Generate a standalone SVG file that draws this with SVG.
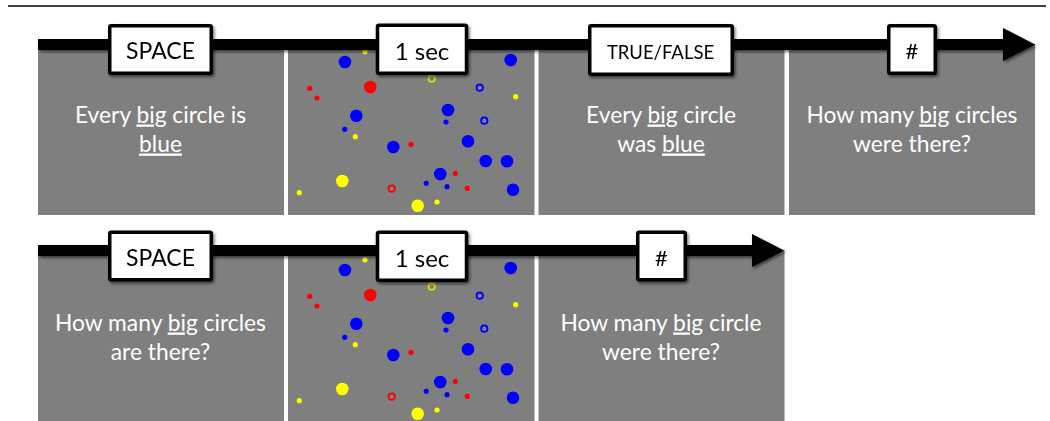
<svg xmlns="http://www.w3.org/2000/svg" xmlns:xlink="http://www.w3.org/1999/xlink" width="1050" height="421" viewBox="0 0 1050 421">
<style>
.panel{fill:#7f7f7f}
.body{font-family:Lato,"Open Sans",sans-serif;font-size:22.8px;fill:#ffffff;text-anchor:middle}
.u{text-decoration:underline}
.box{fill:#ffffff;stroke:#000000;stroke-width:3.5}
.lbl{font-family:Lato,"Open Sans",sans-serif;font-size:23px;fill:#000000;text-anchor:middle}
.axis{stroke:#000000;stroke-width:11;fill:none}
.bb{fill:#0000ff}.br{fill:#ff0000}.by{fill:#ffff00}
.rb{fill:none;stroke:#0000ff;stroke-width:1.8}
.rr{fill:none;stroke:#ff0000;stroke-width:1.8}
.ry{fill:none;stroke:#e0d800;stroke-width:1.8}
</style>
<defs>
<filter id="sh" x="-10%" y="-20%" width="130%" height="160%">
<feDropShadow dx="1.5" dy="2" stdDeviation="1.6" flood-color="#000" flood-opacity="0.55"/>
</filter>
<marker id="ah" viewBox="0 0 32 33" markerWidth="32" markerHeight="33" refX="0" refY="16.5" markerUnits="userSpaceOnUse" orient="auto">
<path d="M0,0 L32,16.5 L0,33 Z" fill="#000"/>
</marker>
<g id="dots">
<circle class="bb" cx="345" cy="62" r="6.3"/>
<circle class="bb" cx="510.7" cy="60" r="6.3"/>
<circle class="bb" cx="356.3" cy="115.7" r="6.3"/>
<circle class="bb" cx="448" cy="110" r="6.3"/>
<circle class="bb" cx="393.3" cy="147" r="6.3"/>
<circle class="bb" cx="468" cy="141.3" r="6.3"/>
<circle class="bb" cx="485.7" cy="161" r="6.3"/>
<circle class="bb" cx="507" cy="161.3" r="6.3"/>
<circle class="bb" cx="440.3" cy="174" r="6.3"/>
<circle class="bb" cx="513" cy="189.7" r="6.3"/>
<circle class="br" cx="370.3" cy="87" r="6.3"/>
<circle class="by" cx="342.3" cy="181" r="6.3"/>
<circle class="by" cx="417.7" cy="205.7" r="6.3"/>
<circle class="br" cx="309.7" cy="88.3" r="2.6"/>
<circle class="br" cx="317" cy="98" r="2.6"/>
<circle class="br" cx="411" cy="144.3" r="2.6"/>
<circle class="br" cx="455.3" cy="173.3" r="2.6"/>
<circle class="br" cx="467.3" cy="188.3" r="2.6"/>
<circle class="bb" cx="446" cy="122" r="2.6"/>
<circle class="bb" cx="344.7" cy="129.3" r="2.6"/>
<circle class="bb" cx="426.3" cy="183.3" r="2.6"/>
<circle class="bb" cx="447" cy="186.7" r="2.6"/>
<circle class="by" cx="365" cy="51.7" r="2.6"/>
<circle class="by" cx="515.7" cy="96.7" r="2.6"/>
<circle class="by" cx="355.3" cy="136.7" r="2.6"/>
<circle class="by" cx="299.3" cy="192.7" r="2.6"/>
<circle class="by" cx="437" cy="202" r="2.6"/>
<circle class="ry" cx="431.7" cy="78.7" r="3.2"/>
<circle class="rb" cx="479.7" cy="87.7" r="3.2"/>
<circle class="rb" cx="484.3" cy="120.7" r="3.2"/>
<circle class="rr" cx="391.7" cy="188.7" r="3.2"/>
</g>
</defs>
<rect width="1050" height="421" fill="#ffffff"/>
<line x1="8" y1="6" x2="1046" y2="6" stroke="#000" stroke-width="1.3"/>

<g id="panel-top-1"><rect class="panel" x="38" y="44" width="246" height="171"/>
<text class="body" x="160.5" y="122.5">Every <tspan class="u">big</tspan> circle is</text>
<text class="body" x="160.5" y="151.5"><tspan class="u">blue</tspan></text></g>
<g id="panel-top-2"><rect class="panel" x="288" y="44" width="246.5" height="171"/><use xlink:href="#dots" href="#dots"/></g>
<g id="panel-top-3"><rect class="panel" x="538.5" y="44" width="246" height="171"/>
<text class="body" x="661" y="122.5">Every <tspan class="u">big</tspan> circle</text>
<text class="body" x="661" y="151.5">was <tspan class="u">blue</tspan></text></g>
<g id="panel-top-4"><rect class="panel" x="789" y="44" width="246" height="171"/>
<text class="body" x="912" y="122.5">How many <tspan class="u">big</tspan> circles</text>
<text class="body" x="912" y="151.5">were there?</text></g>

<g id="panel-bot-1"><rect class="panel" x="38" y="250" width="246" height="171"/>
<text class="body" x="160.5" y="330.5">How many <tspan class="u">big</tspan> circles</text>
<text class="body" x="160.5" y="359.5">are there?</text></g>
<g id="panel-bot-2"><rect class="panel" x="288" y="250" width="246.5" height="171"/><use xlink:href="#dots" href="#dots" transform="translate(0,208)"/></g>
<g id="panel-bot-3"><rect class="panel" x="538.5" y="250" width="246" height="171"/>
<text class="body" x="661" y="330.5">How many <tspan class="u">big</tspan> circle</text>
<text class="body" x="661" y="359.5">were there?</text></g>

<g id="connectors" filter="url(#sh)">
<line class="axis" x1="38" y1="44.5" x2="1003" y2="44.5" marker-end="url(#ah)"/>
<line class="axis" x1="38" y1="250.5" x2="752" y2="250.5" marker-end="url(#ah)"/>
</g>

<g id="label-space-1" filter="url(#sh)"><rect class="box" x="109.75" y="25.75" width="101.5" height="47.5" rx="1.5"/>
<text class="lbl" x="160.5" y="59.3">SPACE</text></g>
<g id="label-1sec-1" filter="url(#sh)"><rect class="box" x="377.5" y="25.25" width="89" height="48" rx="1.5"/>
<text class="lbl" x="422" y="60" style="font-size:24px">1 sec</text></g>
<g id="label-tf" filter="url(#sh)"><rect class="box" x="589.75" y="25.75" width="142.5" height="48.5" rx="1.5"/>
<text class="lbl" x="660.5" y="59.3" style="font-size:18.5px">TRUE/FALSE</text></g>
<g id="label-hash-1" filter="url(#sh)"><rect class="box" x="888.75" y="25.75" width="46.5" height="47.5" rx="1.5"/>
<text class="lbl" x="912" y="59" style="font-size:22px">#</text></g>

<g id="label-space-2" filter="url(#sh)"><rect class="box" x="109.75" y="232.25" width="101.5" height="47.5" rx="1.5"/>
<text class="lbl" x="160.5" y="265.7">SPACE</text></g>
<g id="label-1sec-2" filter="url(#sh)"><rect class="box" x="377.5" y="232.25" width="89" height="48" rx="1.5"/>
<text class="lbl" x="422" y="266.5" style="font-size:24px">1 sec</text></g>
<g id="label-hash-2" filter="url(#sh)"><rect class="box" x="637.75" y="232.25" width="47.5" height="47.5" rx="1.5"/>
<text class="lbl" x="661.5" y="265.7" style="font-size:22px">#</text></g>
</svg>
